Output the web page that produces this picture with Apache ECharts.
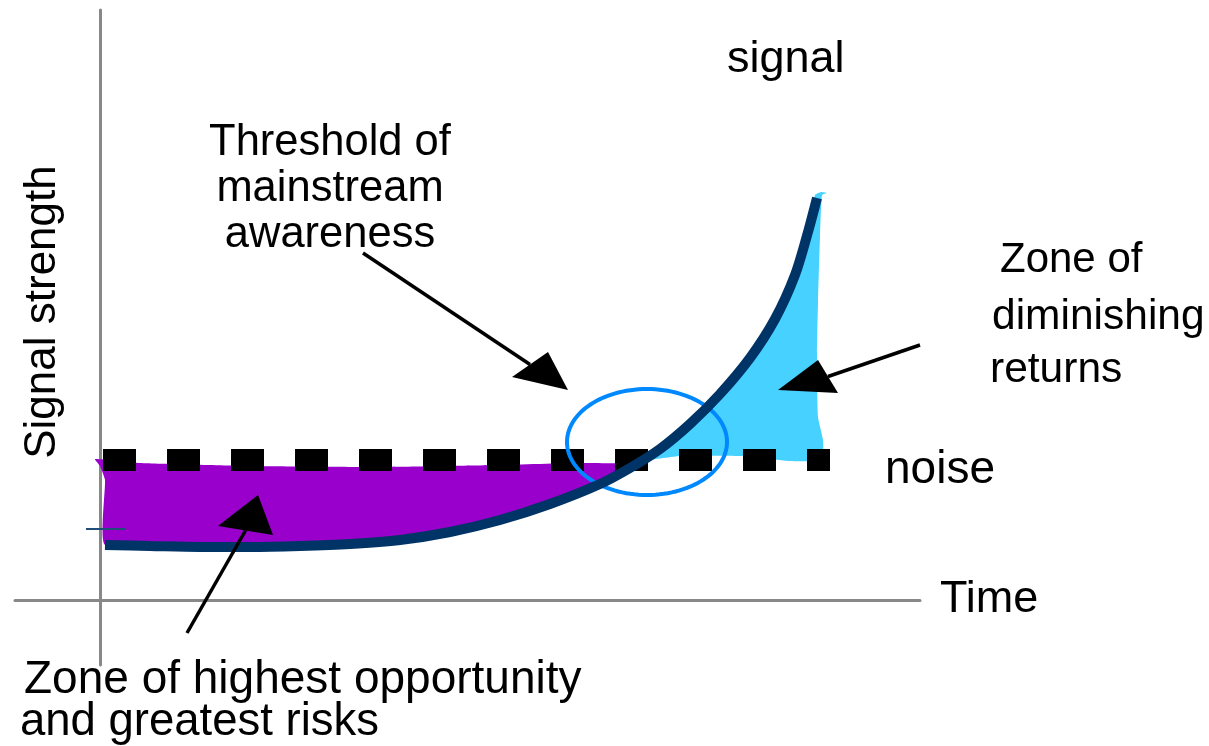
<!DOCTYPE html>
<html><head><meta charset="utf-8">
<script src="https://cdn.jsdelivr.net/npm/echarts@6/dist/echarts.min.js"></script>
<style>html,body{margin:0;padding:0;background:#fff}#c{width:1209px;height:746px}</style>
</head><body><div id="c"></div>
<script>
// Data in chart units: x = time, y = signal strength (origin at axes crossing)
const signalCurve = [[5,55],[50,54],[100,53],[150,53],[200,54],[250,56],[300,60],[350,68],[400,80],[450,96],[500,116],[530,132],[560,151],[590,176],[620,206],[650,242],[675,281],[695,325],[708,368],[717,402]];
const noiseLevel = 140;
const noiseStart = 3;
const noiseEnd = 730;
const opportunityZone = [[-5,141],[40,137],[150,134],[280,133],[400,135],[480,137],[535,136],[530,132],[500,116],[450,96],[400,80],[350,68],[300,60],[200,54],[100,53],[5,55],[5,120],[0,134]];
const diminishingZone = [[545,140],[580,144],[640,144],[690,139],[722,140],[723,160],[718,183],[717,247],[718,297],[720,363],[722,405],[727,407],[721,408],[715,405],[708,368],[695,325],[675,281],[650,242],[620,206],[590,176],[560,151]];
const thresholdCenter = [547,158];
const thresholdRadii = [80,53];
const arrowTails = [[263,347],[87,-33],[820,255]];
const arrowHeads = [
  [[468,210],[412,223],[448,248]],
  [[158,105],[118,74],[173,65]],
  [[678,210],[718,240],[738,207]]
];
const strayTick = [[-14,71],[25,71]];
const xRange = [-85, 820];
const yRange = [-65, 590];

const FONT = '"Liberation Sans", Arial, sans-serif';

function polygonSeries(name, pts, color, z) {
  return {
    type: 'custom', name, data: pts, z, silent: true,
    renderItem(params, api) {
      if (params.dataIndex !== 0) return null;
      return { type: 'polygon', shape: { points: pts.map(p => api.coord(p)), smooth: 0.15 }, style: { fill: color } };
    }
  };
}

function txt(x, y, text, size, opts) {
  return Object.assign({ type: 'text', x, y, style: Object.assign({ text, font: size + 'px ' + FONT, fill: '#000', align: 'left', verticalAlign: 'middle' }, opts && opts.style) }, opts && opts.el);
}

const chart = echarts.init(document.getElementById('c'), null, { renderer: 'canvas' });
chart.setOption({
  animation: false,
  backgroundColor: '#fff',
  grid: { left: 15, right: 289, top: 10, bottom: 81, containLabel: false },
  xAxis: {
    type: 'value', min: xRange[0], max: xRange[1],
    axisLine: { onZero: true, lineStyle: { color: '#888', width: 3 } },
    axisTick: { show: false }, axisLabel: { show: false }, splitLine: { show: false },
    name: 'Time', nameLocation: 'end', nameGap: 20,
    nameTextStyle: { fontSize: 45, color: '#000', fontFamily: FONT, verticalAlign: 'middle' }
  },
  yAxis: {
    type: 'value', min: yRange[0], max: yRange[1],
    axisLine: { onZero: true, lineStyle: { color: '#888', width: 3 } },
    axisTick: { show: false }, axisLabel: { show: false }, splitLine: { show: false }
  },
  series: [
    polygonSeries('opportunity', opportunityZone, '#9900CC', 1),
    polygonSeries('diminishing', diminishingZone, '#47D1FF', 1),
    {
      type: 'line', name: 'noise', z: 3, silent: true, symbol: 'none',
      data: [[noiseStart, noiseLevel], [noiseEnd, noiseLevel]],
      lineStyle: { color: '#000', width: 22, type: [33, 31], cap: 'butt' }
    },
    {
      type: 'custom', name: 'threshold', z: 4, silent: true, data: [thresholdCenter],
      renderItem(params, api) {
        const c = api.coord(thresholdCenter);
        const s = api.size(thresholdRadii);
        const pts = [];
        for (let i = 0; i < 120; i++) {
          const a = i / 120 * Math.PI * 2;
          pts.push([c[0] + s[0] * Math.cos(a), c[1] + s[1] * Math.sin(a)]);
        }
        return { type: 'polygon', shape: { points: pts }, style: { fill: 'none', stroke: '#0088FF', lineWidth: 4 } };
      }
    },
    {
      type: 'line', name: 'signal', z: 5, silent: true, symbol: 'none', smooth: 0.3,
      data: signalCurve,
      lineStyle: { color: '#003366', width: 10, cap: 'butt' }
    },
    {
      type: 'line', name: 'tick', z: 5, silent: true, symbol: 'none',
      data: strayTick, lineStyle: { color: '#1F4E79', width: 2 }
    },
    {
      type: 'custom', name: 'arrows', z: 6, silent: true, data: arrowTails,
      renderItem(params, api) {
        const i = params.dataIndex;
        const tail = api.coord(arrowTails[i]);
        const head = arrowHeads[i].map(p => api.coord(p));
        const mid = [(head[1][0] + head[2][0]) / 2, (head[1][1] + head[2][1]) / 2];
        return {
          type: 'group', children: [
            { type: 'line', shape: { x1: tail[0], y1: tail[1], x2: mid[0], y2: mid[1] }, style: { stroke: '#000', lineWidth: 3.5 } },
            { type: 'polygon', shape: { points: head }, style: { fill: '#000' } }
          ]
        };
      }
    }
  ],
  graphic: [
    txt(727, 60, 'signal', 45),
    txt(330, 189, 'Threshold of\nmainstream\nawareness', 43.5, { style: { align: 'center', lineHeight: 46 } }),
    txt(1000, 260, 'Zone of', 42),
    txt(992, 317, 'diminishing', 42.5),
    txt(990, 370, 'returns', 42.5),
    txt(885, 470, 'noise', 46),
    txt(24, 680, 'Zone of highest opportunity', 46),
    txt(20, 722, 'and greatest risks', 45.5),
    txt(43, 312, 'Signal strength', 44, { style: { align: 'center' }, el: { rotation: Math.PI / 2 } })
  ]
});
</script></body></html>
